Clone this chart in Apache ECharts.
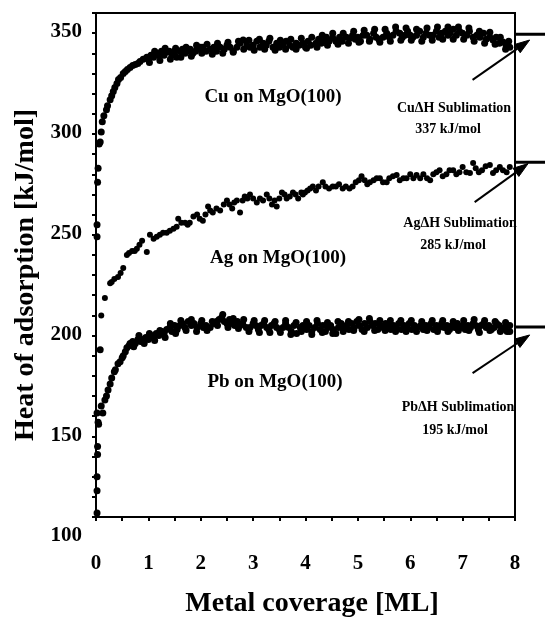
<!DOCTYPE html>
<html>
<head>
<meta charset="utf-8">
<script src="https://cdn.jsdelivr.net/npm/echarts@6/dist/echarts.min.js"></script>
<style>html,body{margin:0;padding:0;background:#fff;}#c{width:545px;height:620px;}</style>
</head>
<body>
<div id="c"></div>
<script>
// ---- data ----
var xTickLabels = ['0','1','2','3','4','5','6','7','8'];
var yTickLabels = ['100','150','200','250','300','350'];

var cuData = [[0.02,239],[0.02,245],[0.03,266],[0.04,273],[0.06,285],[0.08,286],[0.1,291],[0.12,296],[0.15,299],[0.2,302],[0.22,304],[0.27,307],[0.3,309],[0.33,311],[0.36,313],[0.4,315],[0.43,317],[0.47,318],[0.52,320],[0.56,321],[0.6,322],[0.65,323],[0.7,324],[0.75,324.5],[0.8,325],[0.84,326],[0.9,327],[0.97,328],[1.0,327],[1.05,329],[1.1,328],[1.16,330],[1.2,329],[1.25,331],[1.3,329],[1.35,330.6],[1.4,331],[1.45,329],[1.5,331],[1.54,328],[1.6,331],[1.65,332],[1.7,330],[1.74,331],[1.8,332],[1.85,330],[1.9,331],[1.93,332],[2.0,333],[2.04,333],[2.1,331],[2.18,332],[2.25,333],[2.3,331],[2.37,333],[2.45,332],[2.5,334],[2.56,333],[2.62,331],[2.69,333],[2.75,335],[2.81,336.6],[2.88,334],[2.94,333],[3.0,334],[3.07,336],[3.13,333],[3.19,335],[3.25,334],[3.3,336],[3.38,333],[3.45,335],[3.5,333],[3.57,334],[3.63,336],[3.7,334],[3.76,333],[3.82,335],[3.88,334],[3.95,335],[4.0,333],[4.05,336],[4.1,334],[4.2,335],[4.25,337],[4.3,335],[4.35,336],[4.4,338],[4.45,336],[4.52,337.6],[4.58,336],[4.65,338],[4.7,336],[4.78,338],[4.85,337.6],[4.9,339],[4.95,337],[5.0,338],[5.05,336],[5.1,339],[5.17,339],[5.23,337],[5.3,340],[5.35,338],[5.4,337],[5.48,338],[5.55,340],[5.6,338],[5.67,339],[5.73,341],[5.8,340],[5.85,338],[5.9,339],[5.95,341],[6.0,339],[6.05,338],[6.12,339],[6.18,341],[6.25,338],[6.3,340],[6.37,339],[6.43,339],[6.5,341],[6.55,338],[6.6,340],[6.67,341],[6.72,339],[6.76,340],[6.82,342],[6.88,339],[6.94,341],[7.0,340],[7.08,339],[7.13,341],[7.2,338],[7.27,339],[7.33,338],[7.4,340],[7.45,337],[7.52,338],[7.58,336.6],[7.64,338],[7.7,335],[7.77,335.6],[7.83,334],[7.9,333],
[1.02,325.5],[1.12,331],[1.22,326.5],[1.32,332.5],[1.42,327],[1.52,332.5],[1.62,328],[1.72,333],[1.82,328.5],[1.92,334],[2.02,330],[2.12,334.5],[2.22,329.5],[2.32,335],[2.42,330],[2.52,335.5],[2.62,330.5],[2.72,336],[2.82,332],[2.92,336.5],[3.02,331.5],[3.12,337],[3.22,332],[3.32,337.5],[3.42,331.5],[3.52,336.5],[3.62,332],[3.72,337],[3.82,332],[3.92,337.5],[4.02,332.5],[4.12,338],[4.22,333],[4.32,339],[4.42,334],[4.52,340],[4.62,334.5],[4.72,340],[4.82,335],[4.92,341],[5.02,335.5],[5.12,341.5],[5.22,336],[5.32,342],[5.42,335.5],[5.52,342],[5.62,336],[5.72,343],[5.82,336.5],[5.92,342.5],[6.02,336.5],[6.12,342],[6.22,336],[6.32,342.5],[6.42,336.5],[6.52,343],[6.62,337],[6.72,343],[6.82,337],[6.92,343],[7.02,337],[7.12,342.5],[7.22,336],[7.32,341],[7.42,335],[7.52,340.5],[7.62,334.5],[7.72,338],[7.82,332],[7.88,336]];

var agData = [[0.1,200],[0.17,208.6],[0.27,216],[0.3,216.6],[0.35,218],[0.42,219],[0.47,221],[0.52,223.5],[0.59,230],[0.63,231],[0.69,232],[0.74,232],[0.78,233],[0.83,235],[0.88,237],[0.97,231.5],[1.03,240],[1.1,238],[1.16,239],[1.22,240],[1.28,241],[1.35,241],[1.41,242],[1.48,243],[1.54,244],[1.57,248],[1.63,246],[1.7,246],[1.75,245],[1.79,246],[1.86,249],[1.93,250],[1.98,248],[2.04,247],[2.09,250],[2.14,254],[2.18,252],[2.23,251],[2.3,253],[2.37,252],[2.44,255],[2.5,257],[2.55,255],[2.6,253],[2.64,256],[2.69,257],[2.75,251],[2.8,257],[2.84,259],[2.89,258],[2.94,260],[3.0,258],[3.07,256],[3.13,258],[3.19,257],[3.26,260],[3.31,258],[3.36,255],[3.41,257],[3.45,254],[3.5,258],[3.55,261],[3.6,260],[3.64,258],[3.7,259],[3.76,261],[3.81,260],[3.86,258],[3.92,261],[3.95,260],[3.99,261],[4.04,262],[4.09,263],[4.14,264],[4.2,262],[4.25,264],[4.33,266],[4.38,264],[4.45,263],[4.52,264],[4.58,264],[4.64,265],[4.71,263],[4.77,264],[4.84,263],[4.9,264],[4.96,266],[5.02,267],[5.07,269],[5.13,267],[5.18,265],[5.23,266],[5.3,267],[5.36,268],[5.42,268],[5.48,266],[5.55,266],[5.6,268],[5.67,269],[5.74,269.6],[5.8,267],[5.87,268],[5.93,268],[6.0,270],[6.06,268],[6.12,269.6],[6.19,268],[6.25,270],[6.32,268],[6.38,267],[6.44,270],[6.5,271],[6.56,272],[6.62,269],[6.69,270],[6.75,272],[6.82,272],[6.88,270],[6.94,271],[7.0,273.6],[7.07,271],[7.14,270.6],[7.2,275.6],[7.25,273],[7.31,271],[7.37,272],[7.44,274],[7.52,274.6],[7.58,270.6],[7.64,272],[7.71,273.6],[7.77,272],[7.84,271],[7.9,273.6]];

var pbData = [[0.02,102],[0.02,113],[0.02,120],[0.03,131],[0.03,135],[0.05,146],[0.04,147],[0.02,151.6],[0.08,183],[0.1,155],[0.13,151.6],[0.17,158],[0.2,160],[0.23,163],[0.27,166],[0.3,169],[0.35,172],[0.37,173],[0.42,176],[0.46,177],[0.5,179],[0.52,180],[0.56,182],[0.59,184],[0.63,185],[0.65,186],[0.7,187],[0.75,186],[0.8,188],[0.85,187],[0.9,188],[0.95,189],[1.0,188],[1.05,190],[1.09,189],[1.15,191],[1.2,190],[1.26,192],[1.3,191],[1.35,193],[1.41,194],[1.45,192],[1.5,195],[1.55,193],[1.6,195],[1.65,196],[1.7,194],[1.76,197],[1.82,195],[1.87,196],[1.93,194],[2.0,196],[2.05,194],[2.1,195],[2.18,194],[2.25,196],[2.3,197],[2.35,198],[2.4,199],[2.45,197],[2.5,196],[2.55,198],[2.6,196],[2.65,195],[2.7,197],[2.75,195],[2.8,196],[2.87,194],[2.94,194],[3.0,196],[3.05,195],[3.1,193],[3.15,195],[3.2,196],[3.26,194],[3.3,193],[3.35,195],[3.4,196],[3.45,194],[3.5,193],[3.57,194],[3.62,196],[3.68,194],[3.73,192],[3.78,195],[3.83,191],[3.9,194],[3.95,195],[4.02,193],[4.07,195],[4.12,192],[4.18,194],[4.23,196],[4.28,193],[4.33,195],[4.38,192],[4.43,194],[4.48,195],[4.53,193],[4.58,191],[4.63,194],[4.68,196],[4.73,194],[4.78,195],[4.83,193],[4.88,196],[4.93,194],[4.98,197],[5.03,195],[5.08,193],[5.13,196],[5.18,194],[5.23,197],[5.28,195],[5.33,196],[5.38,193],[5.43,195],[5.48,194],[5.53,196],[5.58,195],[5.63,193],[5.68,195],[5.73,194],[5.78,196],[5.83,193],[5.88,195],[5.93,194],[5.98,196],[6.03,193],[6.08,195],[6.13,194],[6.2,195],[6.25,193],[6.3,195],[6.35,194],[6.4,196],[6.45,193],[6.5,195],[6.55,194],[6.6,196],[6.65,194],[6.7,195],[6.75,193],[6.8,195],[6.85,194],[6.9,196],[6.95,194],[7.0,195],[7.05,193],[7.1,195],[7.15,194],[7.2,196],[7.25,195],[7.3,193],[7.35,195],[7.4,196],[7.45,194],[7.5,195],[7.55,193],[7.6,194],[7.65,196],[7.7,195],[7.75,193],[7.8,194],[7.85,192],[7.9,195],
[0.72,184.5],[0.82,190],[0.92,186],[1.02,191],[1.12,187.5],[1.22,192.5],[1.32,189],[1.42,196],[1.52,191],[1.62,197.5],[1.72,192.5],[1.82,198],[1.92,192],[2.02,197.5],[2.12,192.5],[2.22,197],[2.32,195],[2.42,200.5],[2.52,194],[2.62,198.5],[2.72,193.5],[2.82,198],[2.92,192],[3.02,197.5],[3.12,191.5],[3.22,197.5],[3.32,191.5],[3.42,197],[3.52,191.5],[3.62,197.5],[3.72,190.5],[3.82,196.5],[3.92,192],[4.02,197],[4.12,190.5],[4.22,197.5],[4.32,191.5],[4.42,196.5],[4.52,191],[4.62,197],[4.72,192],[4.82,197],[4.92,192.5],[5.02,198],[5.12,192],[5.22,198.5],[5.32,192.5],[5.42,197.5],[5.52,192.5],[5.62,197.5],[5.72,192],[5.82,197.5],[5.92,192],[6.02,197.5],[6.12,192],[6.22,197],[6.32,192.5],[6.42,197.5],[6.52,192],[6.62,197.5],[6.72,192],[6.82,197],[6.92,192.5],[7.02,197.5],[7.12,192.5],[7.22,198],[7.32,191.5],[7.42,197.5],[7.52,192.5],[7.62,197],[7.72,192],[7.82,196.5],[7.9,192]];

var seriesNames = ['Cu on MgO(100)', 'Ag on MgO(100)', 'Pb on MgO(100)'];
var sublimationTitles = ['Cu\u0394H Sublimation', 'Ag\u0394H Sublimation', 'Pb\u0394H Sublimation'];
var sublimationValues = ['337 kJ/mol', '285 kJ/mol', '195 kJ/mol'];
// level of the sublimation marker bars as drawn on the right edge
var sublimationBarLevels = [339.5, 276, 194.2];
// arrows in data units [x0, y0, x1, y1]
var arrows = [[7.19, 316.8, 8.28, 336.6], [7.23, 256.2, 8.25, 275.3], [7.19, 171.4, 8.28, 190.3]];

var FONT = 'Liberation Serif';
var chart = echarts.init(document.getElementById('c'), null, {renderer: 'canvas'});

function scatter(name, data, size) {
  return {name: name, type: 'scatter', data: data, symbolSize: size, itemStyle: {color: '#000', opacity: 1}, silent: true};
}
function txt(t, x, y, size) {
  return {type: 'text', x: x, y: y, silent: true,
    style: {text: t, font: 'bold ' + size + 'px ' + FONT, fill: '#000', textAlign: 'center', textVerticalAlign: 'middle'}};
}

chart.setOption({
  animation: false,
  backgroundColor: '#fff',
  grid: {left: 96, top: 13, right: 30, bottom: 103, show: true, borderColor: '#000', borderWidth: 2,
    backgroundColor: 'transparent', containLabel: false, outerBoundsMode: 'none'},
  xAxis: {
    type: 'value', min: 0, max: 8, interval: 0.5,
    name: 'Metal coverage [ML]', nameLocation: 'middle', nameGap: 73,
    nameTextStyle: {fontFamily: FONT, fontWeight: 'bold', fontSize: 28, color: '#000', padding: [0, 0, 0, 13]},
    axisLine: {show: true, lineStyle: {color: '#000', width: 2}},
    axisTick: {show: true, inside: false, length: 4, lineStyle: {color: '#000', width: 2}},
    axisLabel: {
      fontFamily: FONT, fontWeight: 'bold', fontSize: 21, color: '#000', margin: 36,
      formatter: function (v) { return (Math.abs(v - Math.round(v)) < 1e-6) ? xTickLabels[Math.round(v)] : ''; }
    },
    splitLine: {show: false}
  },
  yAxis: {
    type: 'value', min: 100, max: 350, interval: 10,
    name: 'Heat of adsorption [kJ/mol]', nameLocation: 'middle', nameGap: 56,
    nameTextStyle: {fontFamily: FONT, fontWeight: 'bold', fontSize: 28, color: '#000', padding: [0, 0, 0, -20]},
    axisLine: {show: true, lineStyle: {color: '#000', width: 2}},
    axisTick: {show: true, inside: false, length: 4, lineStyle: {color: '#000', width: 2}},
    axisLabel: {
      fontFamily: FONT, fontWeight: 'bold', fontSize: 21, color: '#000', margin: 14,
      verticalAlign: 'middle', lineHeight: 38,
      formatter: function (v) { return (v % 50 === 0) ? '\n' + yTickLabels[(v - 100) / 50] : ''; }
    },
    splitLine: {show: false}
  },
  series: [
    scatter(seriesNames[0], cuData, 7),
    scatter(seriesNames[1], agData, 6),
    scatter(seriesNames[2], pbData, 7)
  ]
});

// annotations placed through the chart's own scales
var g = [
  txt(seriesNames[0], 273, 97, 19),
  txt(seriesNames[1], 278, 258, 19),
  txt(seriesNames[2], 275, 382, 19),
  txt(sublimationTitles[0], 454, 108, 14),
  txt(sublimationValues[0], 448, 129, 14),
  txt(sublimationTitles[1], 460, 223, 14),
  txt(sublimationValues[1], 453, 245, 14),
  txt(sublimationTitles[2], 458, 407, 14),
  txt(sublimationValues[2], 455, 430, 14)
];
sublimationBarLevels.forEach(function (lv) {
  var p0 = chart.convertToPixel({gridIndex: 0}, [8, lv]);
  var p1 = chart.convertToPixel({gridIndex: 0}, [8.62, lv]);
  g.push({type: 'line', silent: true, shape: {x1: p0[0], y1: p0[1], x2: p1[0], y2: p1[1]}, style: {stroke: '#000', lineWidth: 3}});
});
arrows.forEach(function (a) {
  var p0 = chart.convertToPixel({gridIndex: 0}, [a[0], a[1]]);
  var p1 = chart.convertToPixel({gridIndex: 0}, [a[2], a[3]]);
  var dx = p1[0] - p0[0], dy = p1[1] - p0[1], L = Math.sqrt(dx * dx + dy * dy);
  var ux = dx / L, uy = dy / L, nx = -uy, ny = ux;
  var hl = 15, hw = 5;
  var bx = p1[0] - ux * hl, by = p1[1] - uy * hl;
  g.push({type: 'line', silent: true, shape: {x1: p0[0], y1: p0[1], x2: bx, y2: by}, style: {stroke: '#000', lineWidth: 2}});
  g.push({type: 'polygon', silent: true, shape: {points: [[p1[0], p1[1]], [bx + nx * hw, by + ny * hw], [bx - nx * hw, by - ny * hw]]},
    style: {fill: '#000', stroke: '#000', lineWidth: 1}});
});
chart.setOption({graphic: g});
</script>
</body>
</html>
